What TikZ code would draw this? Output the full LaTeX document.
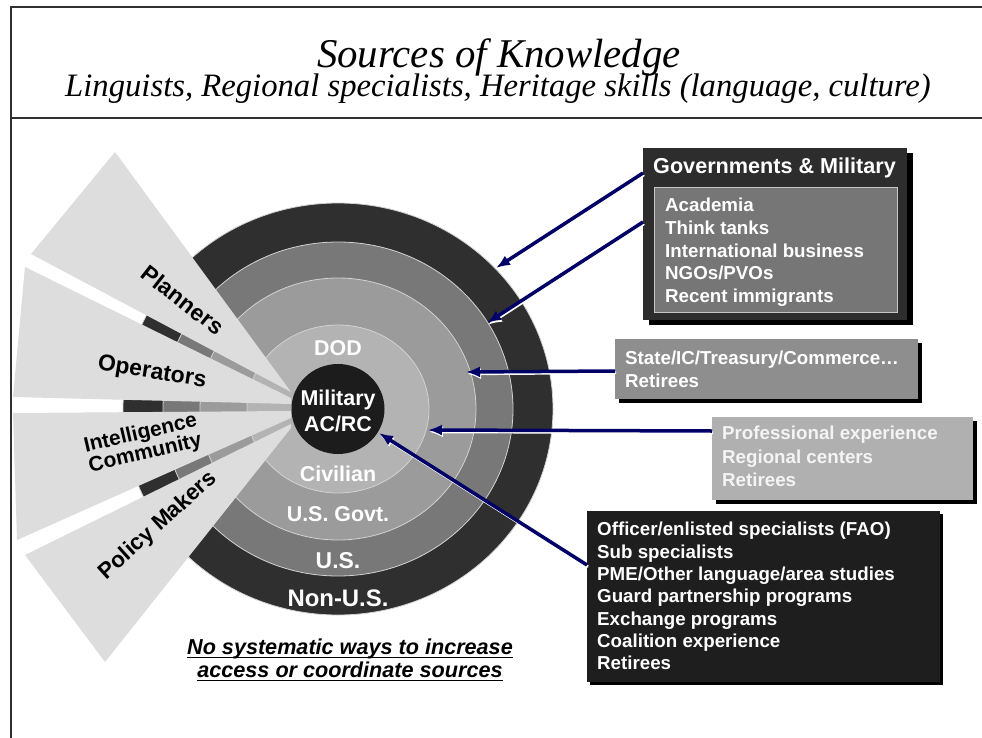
\documentclass[tikz,border=0pt]{standalone}
\usepackage{fontspec}
\setmainfont{Liberation Serif}
\newfontfamily\arialf{Liberation Sans}
\usetikzlibrary{arrows.meta}
\definecolor{ringA}{HTML}{2F2F2F}
\definecolor{ringB}{HTML}{787878}
\definecolor{ringC}{HTML}{9B9B9B}
\definecolor{ringD}{HTML}{B3B3B3}
\definecolor{ringE}{HTML}{1C1C1C}
\definecolor{ringline}{HTML}{D2D2D2}
\definecolor{wedgec}{HTML}{DDDDDD}
\definecolor{govdark}{HTML}{2D2D2D}
\definecolor{govinner}{HTML}{767676}
\definecolor{govinline}{HTML}{C6C6C6}
\definecolor{statebox}{HTML}{8E8E8E}
\definecolor{profbox}{HTML}{B0B0B0}
\definecolor{proftext}{HTML}{F4F4F4}
\definecolor{blackbox}{HTML}{1E1E1E}
\definecolor{navyc}{HTML}{000066}
\definecolor{framec}{HTML}{303030}
\tikzset{
  sansb/.style={font=\arialf\bfseries\fontsize{#1}{#1}\selectfont},
  ringlab/.style={text=white, anchor=base, inner sep=0},
  wlab/.style={text=black, align=center, inner sep=0},
  boxnode/.style={anchor=north west, inner sep=0, outer sep=0, draw=none},
  bline/.style={anchor=base west, inner sep=0, text=white, sansb=18.8},
  arr/.style={draw=navyc, line width=3.5bp, -{Latex[length=14bp,width=11bp]}},
  arrw/.style={draw=white, line width=2.8bp, -{Latex[length=14bp,width=11bp]}},
  bottomtxt/.style={anchor=base, inner sep=0, font=\arialf\bfseries\itshape\fontsize{21.7}{24}\selectfont},
  framel/.style={draw=framec, line width=2bp}
}
\begin{document}
\begin{tikzpicture}[x=1bp,y=-1bp]
\useasboundingbox (0,0) rectangle (982,738);
\fill[white] (0,0) rectangle (982,738);
% frame
\draw[framel] (982,7) -- (11,7) -- (11,738);
\draw[framel] (11,118) -- (982,118);
% title
\node[anchor=base, inner sep=0, font=\itshape\fontsize{41}{48}\selectfont] (title) at (499,68) {Sources of Knowledge};
\node[anchor=base, inner sep=0, font=\itshape\fontsize{32.8}{38}\selectfont] (subtitle) at (498,97) {Linguists, Regional specialists, Heritage skills (language, culture)};
% rings
\coordinate (c) at (338,409);
\fill[ringA, draw=ringline, line width=0.8bp] (c) ellipse [x radius=215bp, y radius=206bp];
\fill[ringB, draw=ringline, line width=0.8bp] (c) ellipse [x radius=175bp, y radius=167bp];
\fill[ringC, draw=ringline, line width=0.8bp] (c) ellipse [x radius=138bp, y radius=131bp];
\fill[ringD, draw=ringline, line width=0.8bp] (c) ellipse [x radius=91bp, y radius=84bp];
% fan wedges
\fill[wedgec] (115,152) -- (31,254) -- (291,392) -- cycle;
\fill[wedgec] (25,267) -- (13,397) -- (291,404) -- (291,398) -- cycle;
\fill[wedgec] (13,413) -- (17,540) -- (291,418) -- (291,411) -- cycle;
\fill[wedgec] (25,555) -- (105,662) -- (291,428) -- (291,424) -- cycle;
% inner circle
\fill[ringE] (c) ellipse [x radius=46.5bp, y radius=45bp];
% ring labels
\node[ringlab, sansb=21.5] (dod) at (338,355) {DOD};
\node[ringlab, sansb=21.5] (mil1) at (338,405.5) {Military};
\node[ringlab, sansb=21.5] (mil2) at (338,431) {AC/RC};
\node[ringlab, sansb=21.5] (civ) at (338,481) {Civilian};
\node[ringlab, sansb=21.5] (govt) at (338,521) {U.S. Govt.};
\node[ringlab, sansb=23] (us) at (338,568) {U.S.};
\node[ringlab, sansb=24] (nonus) at (338,606.5) {Non-U.S.};
% wedge labels
\node[wlab, sansb=23, rotate=-38] (plan) at (183,300) {Planners};
\node[wlab, sansb=23, rotate=-9] (oper) at (152,373) {Operators};
\node[wlab, font=\arialf\bfseries\fontsize{21}{18}\selectfont, rotate=13] (intel) at (143,444) {Intelligence\\Community};
\node[wlab, sansb=22.5, rotate=42] (policy) at (158,526) {Policy Makers};
% Governments & Military box
\fill[black] (649,153) rectangle (913,325);
\node[boxnode, fill=govdark, minimum width=264bp, minimum height=172bp] (gov) at (643,148) {};
\node[anchor=base west, inner sep=0, text=white, sansb=21.7] (govtitle) at (653,173) {Governments \& Military};
\node[boxnode, fill=govinner, draw=govinline, line width=1bp, minimum width=243bp, minimum height=125bp] (govin) at (654,187) {};
\foreach \t [count=\i] in {Academia,Think tanks,International business,NGOs/PVOs,Recent immigrants}
  \node[bline] (g\i) at (665,{211.7+22.75*(\i-1)}) {\t};
% State box
\fill[black] (619,343) rectangle (922,403);
\node[boxnode, fill=statebox, minimum width=303bp, minimum height=60bp] (state) at (615,339) {};
\node[bline] (st1) at (625,364.7) {State/IC/Treasury/Commerce…};
\node[bline] (st2) at (625,387.7) {Retirees};
% Professional box
\fill[black] (716,421) rectangle (977,504);
\node[boxnode, fill=profbox, minimum width=261bp, minimum height=83bp] (prof) at (712,417) {};
\foreach \t [count=\i] in {Professional experience,Regional centers,Retirees}
  \node[bline, text=proftext] (p\i) at (722,{439.7+23.5*(\i-1)}) {\t};
% Military box
\fill[black] (590,514) rectangle (943,685);
\node[boxnode, fill=blackbox, minimum width=353bp, minimum height=171bp] (milbox) at (587,511) {};
\foreach \t [count=\i] in {Officer/enlisted specialists (FAO),Sub specialists,PME/Other language/area studies,Guard partnership programs,Exchange programs,Coalition experience,Retirees}
  \node[bline] (m\i) at (597,{535.7+22.33*(\i-1)}) {\t};
% arrows
\coordinate (s1) at (643,173); \coordinate (t1) at (496,268);
\coordinate (s2) at (643,222); \coordinate (t2) at (487,323);
\coordinate (s3) at (615,371); \coordinate (t3) at (466,372);
\coordinate (s4) at (712,431); \coordinate (t4) at (428,430);
\coordinate (s5) at (587,565); \coordinate (t5) at (379,433);
\foreach \k in {1,...,5}{
  \draw[arrw] ([shift={(1,1.8)}]s\k) -- ([shift={(1,1.8)}]t\k);
  \draw[arr] (s\k) -- (t\k);
}
% bottom statement
\node[bottomtxt] (nb1) at (350,654) {No systematic ways to increase};
\node[bottomtxt] (nb2) at (350,677) {access or coordinate sources};
\draw[line width=1.6bp] ([yshift=-3.5bp]nb1.base west) -- ([yshift=-3.5bp]nb1.base east);
\draw[line width=1.6bp] ([yshift=-3.5bp]nb2.base west) -- ([yshift=-3.5bp]nb2.base east);
\end{tikzpicture}
\end{document}
